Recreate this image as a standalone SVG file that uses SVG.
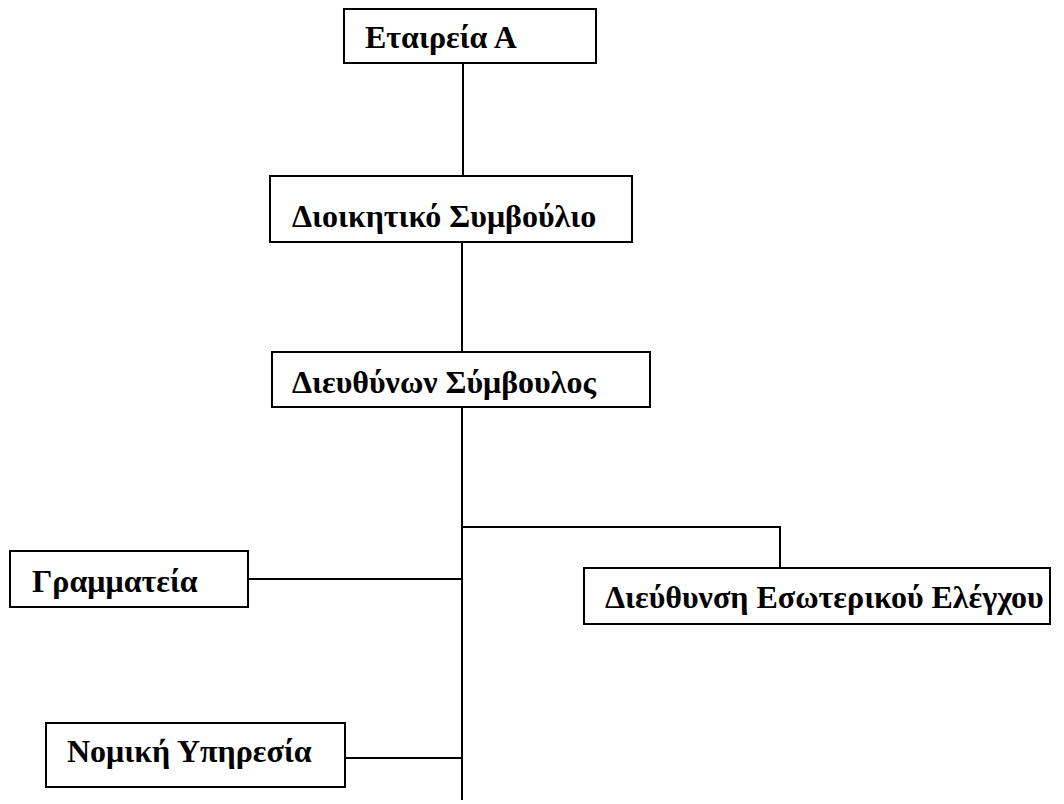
<svg xmlns="http://www.w3.org/2000/svg" width="1064" height="804" viewBox="0 0 1064 804">
<style>
.box{fill:#fff;stroke:#000;stroke-width:2}
.lbl{font-family:"Liberation Serif","Times New Roman",serif;font-weight:bold;font-size:32px;fill:#000}
.con{stroke:#000;stroke-width:2;fill:none}
</style>
<rect width="1064" height="804" fill="#fff"/>
<g id="connectors">
<line class="con" x1="463" y1="63" x2="463" y2="176"/>
<line class="con" x1="462" y1="242" x2="462" y2="352"/>
<line class="con" x1="462" y1="407" x2="462" y2="800"/>
<polyline class="con" points="462,527 780,527 780,568"/>
<line class="con" x1="248" y1="579" x2="462" y2="579"/>
<line class="con" x1="345" y1="758" x2="462" y2="758"/>
</g>
<g id="n1"><rect class="box" x="344" y="9" width="252" height="54"/><text class="lbl" x="365" y="48">Εταιρεία Α</text></g>
<g id="n2"><rect class="box" x="270" y="176" width="362" height="66"/><text class="lbl" x="292" y="227">Διοικητικό Συμβούλιο</text></g>
<g id="n3"><rect class="box" x="272" y="352" width="378" height="55"/><text class="lbl" x="292" y="393">Διευθύνων Σύμβουλος</text></g>
<g id="n4"><rect class="box" x="10" y="551" width="238" height="56"/><text class="lbl" x="32" y="592">Γραμματεία</text></g>
<g id="n5"><rect class="box" x="584" y="568" width="466" height="56"/><text class="lbl" x="605" y="608">Διεύθυνση Εσωτερικού Ελέγχου</text></g>
<g id="n6"><rect class="box" x="46" y="723" width="299" height="64"/><text class="lbl" x="67" y="762">Νομική Υπηρεσία</text></g>
</svg>
